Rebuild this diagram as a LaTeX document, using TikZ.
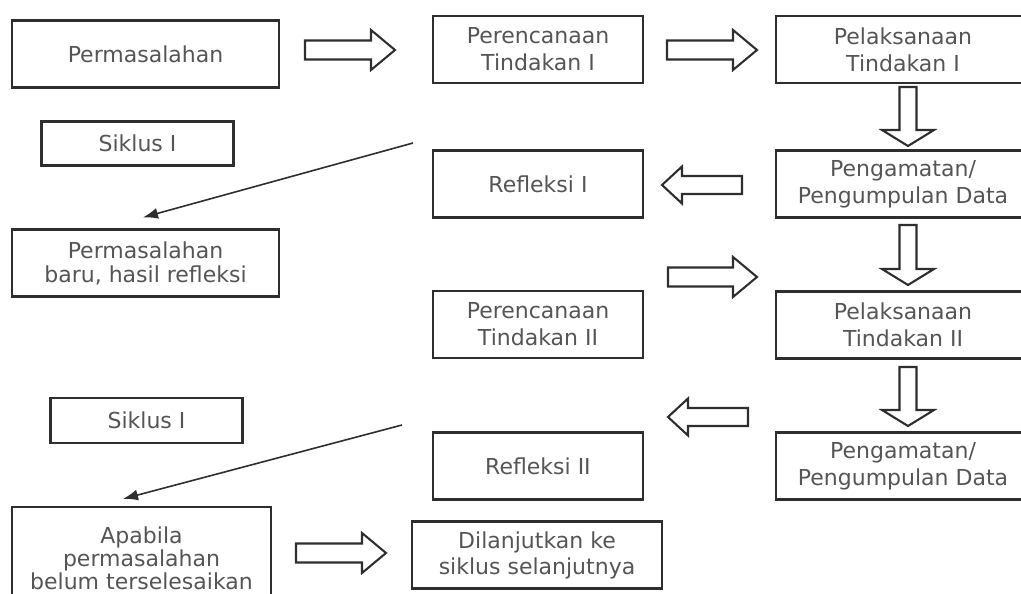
\documentclass[tikz,border=0pt]{standalone}
\usepackage{fontspec}
\setmainfont{DejaVu Sans}
\usetikzlibrary{arrows.meta}

\definecolor{boxline}{HTML}{2E2E2E}
\definecolor{boxtext}{HTML}{555555}

\tikzset{
    pics/fatarrow/.style n args={4}{
        code={
            \draw[boxline, line width=2.1pt, line join=miter]
                (0,-#2) -- ({#1-#4},-#2) -- ({#1-#4},-#3) -- (#1,0)
                -- ({#1-#4},#3) -- ({#1-#4},#2) -- (0,#2) -- cycle;
        }
    }
}

\begin{document}
\begin{tikzpicture}[
    x=1pt, y=-1pt,
    font=\fontsize{22}{27}\selectfont,
    >={Latex[length=15pt, width=11pt]},
    every path/.style={line width=2.2pt},
    box/.style={
        draw=boxline,
        text=boxtext,
        align=center,
        inner sep=0pt,
        minimum height=67pt
    },
    leftbox/.style={box, minimum width=267pt},
    midbox/.style={box, minimum width=210pt},
    rightbox/.style={box, minimum width=254pt},
    tagbox/.style={box, minimum width=192pt, minimum height=44pt},
    thin/.style={->, draw=boxline, line width=1.6pt}
]

\useasboundingbox (0,0) rectangle (1021,594);

% ==================== Siklus I ====================
\node[leftbox] (prm)  at (145.5,54)  {Permasalahan};
\node[midbox]  (per1) at (538,49.5)  {Perencanaan\\Tindakan I};
\node[rightbox](pel1) at (903,49.5)  {Pelaksanaan\\Tindakan I};

\node[tagbox]  (sik1) at (137.5,143.5) {Siklus I};
\node[midbox]  (ref1) at (538,184)   {Refleksi I};
\node[rightbox](pen1) at (903,184)   {Pengamatan/\\Pengumpulan Data};

\node[leftbox, font=\fontsize{22}{24}\selectfont] (prmb) at (145.5,263)
{Permasalahan\\baru, hasil refleksi};

\pic (ar1) at (305,50) {fatarrow={90}{9.5}{20}{24}};
\pic (ar2) at (667,50) {fatarrow={90}{9.5}{20}{24}};
\pic[rotate=-90] (dn1) at (908,87) {fatarrow={59}{8.5}{26}{16}};
\pic[rotate=180] (lf1) at (742,185) {fatarrow={80}{9}{18.5}{20}};

\coordinate (s1) at (413,143);
\draw[thin] (s1) -- ([xshift=-2.5pt, yshift=11pt]prmb.north);

% ==================== Siklus II ====================
\node[midbox]  (per2) at (538,324.5) {Perencanaan\\Tindakan II};
\node[rightbox](pel2) at (903,325)   {Pelaksanaan\\Tindakan II};

\node[tagbox, minimum height=45pt] (sik2) at (146.5,420.5) {Siklus I};
\node[midbox]  (ref2) at (538,466)   {Refleksi II};
\node[rightbox](pen2) at (903,466)   {Pengamatan/\\Pengumpulan Data};

\pic[rotate=-90] (dn2) at (908,225) {fatarrow={60}{8.5}{26}{16}};
\pic (ar3) at (668,277) {fatarrow={89}{9.5}{20}{24}};
\pic[rotate=-90] (dn3) at (908,367) {fatarrow={59}{8.5}{26}{16}};
\pic[rotate=180] (lf2) at (748,417) {fatarrow={80}{9}{18.5}{20}};

% ==================== Lanjutan ====================
\node[box, minimum width=259pt, minimum height=102pt,
      font=\fontsize{22}{23}\selectfont] (apb) at (141.5,558)
{Apabila\\permasalahan\\belum terselesaikan};
\node[box, minimum width=250pt, font=\fontsize{22}{26}\selectfont] (lnj) at (537,555)
{Dilanjutkan ke\\siklus selanjutnya};

\pic (ar5) at (296,553) {fatarrow={90}{9.5}{20}{24}};

\coordinate (s2) at (402,425);
\draw[thin] (s2) -- ([xshift=-18.5pt, yshift=7pt]apb.north);

\end{tikzpicture}
\end{document}
